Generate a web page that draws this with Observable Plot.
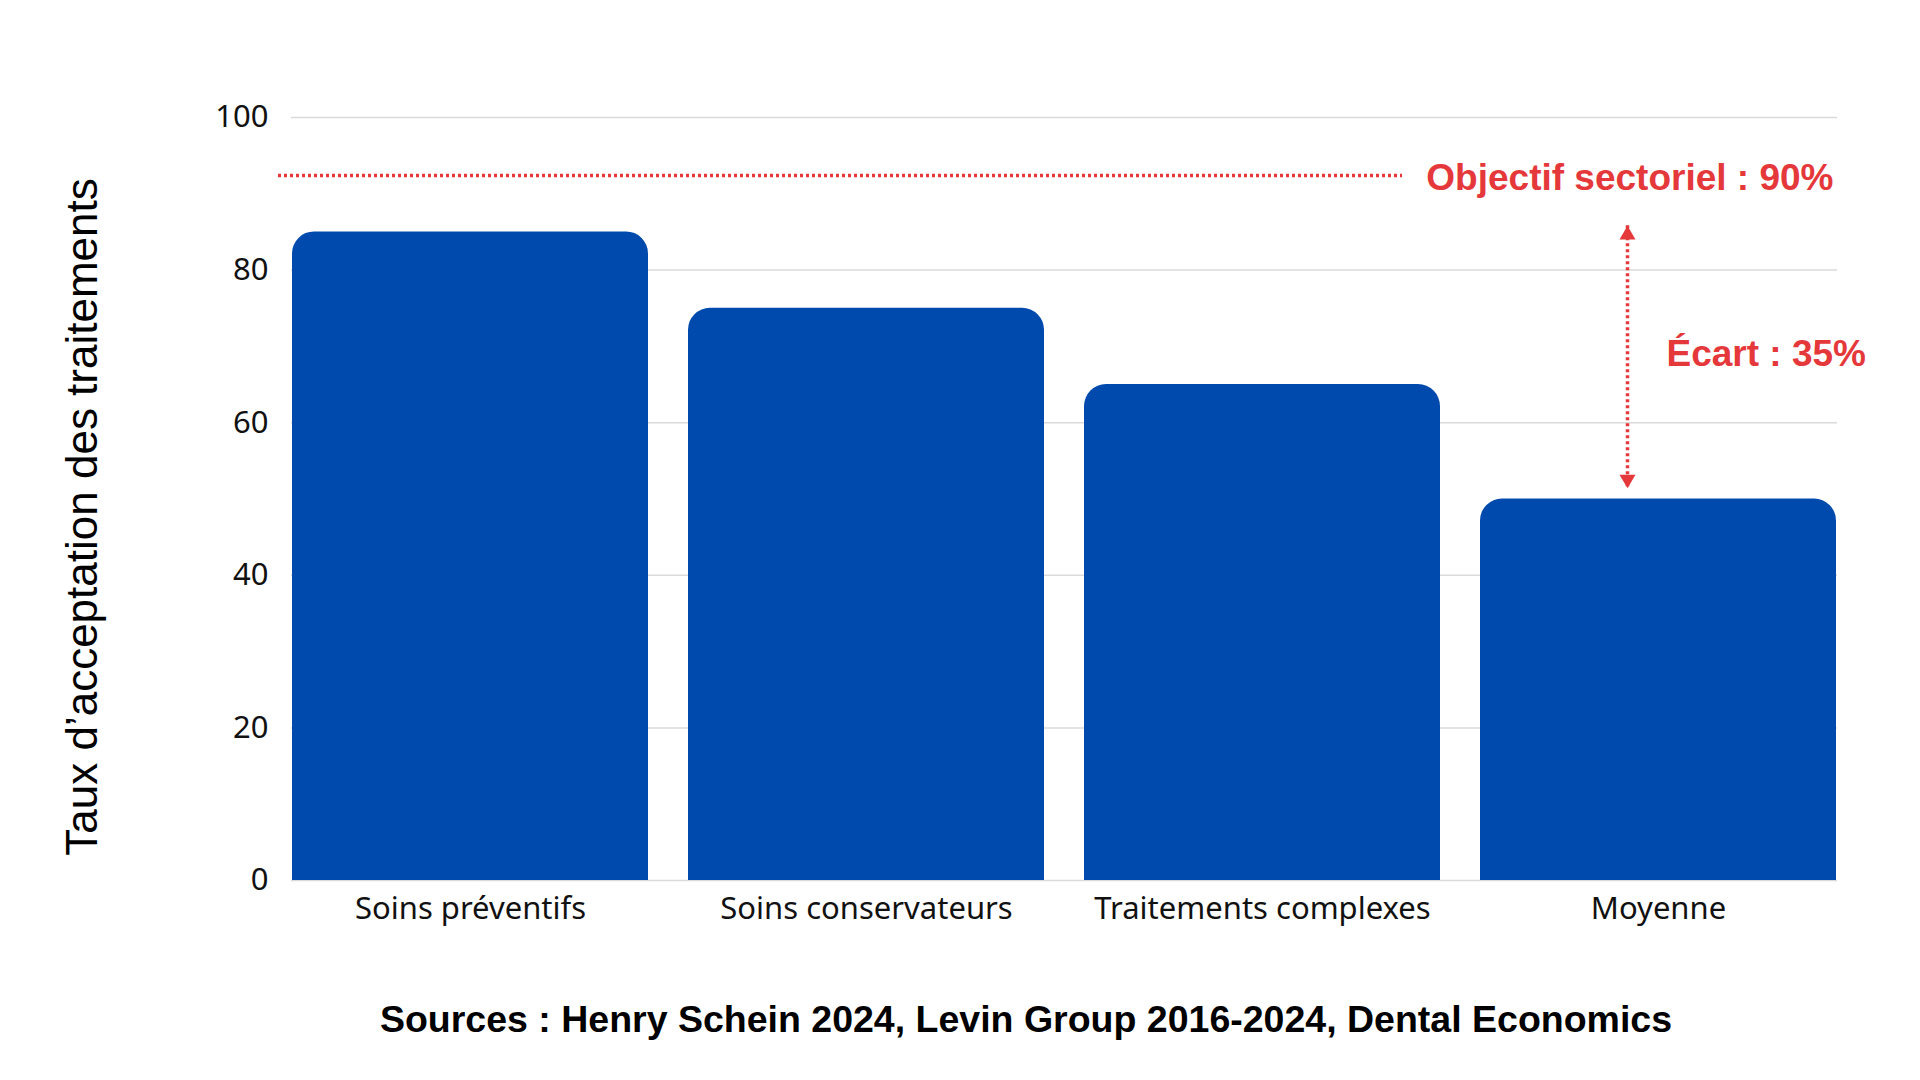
<!DOCTYPE html>
<html>
<head>
<meta charset="utf-8">
<script src="https://cdn.jsdelivr.net/npm/d3@7"></script>
<script src="https://cdn.jsdelivr.net/npm/@observablehq/plot@0.6"></script>
<style>
  html, body { margin: 0; padding: 0; background: #fff; }
  #chart svg { display: block; }
  #caption {
    font-family: "Liberation Sans", Arial, sans-serif;
    font-weight: bold;
    font-size: 37.5px;
    line-height: 44px;
    color: #000;
    text-align: center;
    padding-left: 132px;
    margin-top: 37px;
  }
</style>
</head>
<body>
<div id="chart"></div>
<div id="caption"></div>
<script>
// ---- data ----
const categories = ["Soins préventifs", "Soins conservateurs", "Traitements complexes", "Moyenne"];
const values = [85, 75, 65, 50];
const yTicks = [0, 20, 40, 60, 80, 100];
const targetLevel = 92.4;
const targetLabel = "Objectif sectoriel : 90%";
const gapCategory = "Moyenne";
const gapTop = 85.8;
const gapBottom = 51.4;
const gapLabelLevel = 69;
const gapLabel = "Écart : 35%";
const yLabel = "Taux d’acceptation des traitements";
const sourceText = "Sources : Henry Schein 2024, Levin Group 2016-2024, Dental Economics";

// ---- styles ----
const blue = "#004aad";
const red = "#e5383b";
const bars = categories.map((c, i) => ({category: c, value: values[i]}));

const triUp = {draw(ctx, size) { const r = Math.sqrt(size / Math.PI); ctx.moveTo(0, 0); ctx.lineTo(r, 1.7 * r); ctx.lineTo(-r, 1.7 * r); ctx.closePath(); }};
const triDown = {draw(ctx, size) { const r = Math.sqrt(size / Math.PI); ctx.moveTo(0, 0); ctx.lineTo(r, -1.7 * r); ctx.lineTo(-r, -1.7 * r); ctx.closePath(); }};

const chart = Plot.plot({
  width: 1920,
  height: 960,
  marginLeft: 291,
  marginRight: 83,
  marginTop: 117,
  marginBottom: 80,
  style: {fontFamily: "'Noto Sans', sans-serif", fontSize: "31px", color: "#111", background: "#fff"},
  x: {domain: categories, paddingInner: 0.1, paddingOuter: 0, tickSize: 0, tickPadding: 16, label: null},
  y: {domain: [0, 100], ticks: yTicks, tickSize: 0, tickPadding: 23, label: null},
  marks: [
    Plot.gridY(yTicks, {stroke: "#dadada", strokeOpacity: 1, strokeWidth: 1.5}),
    Plot.barY(bars, {x: "category", y: "value", fill: blue, rx: 22, insetBottom: -40, clip: true}),
    Plot.ruleY([targetLevel], {stroke: red, strokeWidth: 3.5, strokeDasharray: "3 3", insetLeft: -13, insetRight: 435}),
    Plot.text([targetLabel], {text: d => d, y: () => targetLevel, frameAnchor: "right", textAnchor: "end", dx: -4, dy: 3,
      fill: red, fontSize: 37, fontWeight: "bold", fontFamily: "'Liberation Sans', Arial, sans-serif"}),
    Plot.ruleX([{x: gapCategory, y1: gapTop, y2: gapBottom}], {x: "x", y1: "y1", y2: "y2", dx: -31,
      stroke: red, strokeWidth: 3.5, strokeDasharray: "3 3"}),
    Plot.dot([{x: gapCategory, y: gapTop}], {x: "x", y: "y", dx: -31, symbol: triUp, r: 8, fill: red}),
    Plot.dot([{x: gapCategory, y: gapBottom}], {x: "x", y: "y", dx: -31, symbol: triDown, r: 8, fill: red}),
    Plot.text([gapLabel], {text: d => d, x: () => gapCategory, y: () => gapLabelLevel, textAnchor: "start", dx: 8,
      fill: red, fontSize: 37, fontWeight: "bold", fontFamily: "'Liberation Sans', Arial, sans-serif"}),
    Plot.text([yLabel], {text: d => d, frameAnchor: "left", textAnchor: "middle", rotate: -90, dx: -209, dy: 18,
      fill: "#000", fontSize: 44, fontFamily: "'Liberation Sans', Arial, sans-serif"})
  ]
});
document.getElementById("chart").appendChild(chart);
document.getElementById("caption").textContent = sourceText;
</script>
</body>
</html>
